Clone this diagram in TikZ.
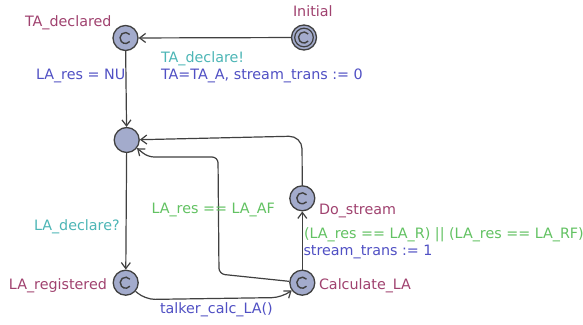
\documentclass[tikz,border=0pt]{standalone}
\usepackage{fontspec}
\setmainfont{DejaVu Sans}
\usetikzlibrary{arrows.meta}
\definecolor{nodefill}{HTML}{A3ABCC}
\definecolor{linegray}{HTML}{404040}
\definecolor{namecol}{HTML}{A0426F}
\definecolor{synccol}{HTML}{4DB6B6}
\definecolor{assigncol}{HTML}{5050C4}
\definecolor{guardcol}{HTML}{62C262}
\begin{document}
\begin{tikzpicture}[x=1pt,y=-1pt,
  font=\fontsize{14.3}{16}\selectfont,
  loc/.style={circle, draw=linegray, fill=nodefill, line width=1.3pt,
    minimum size=25pt, inner sep=0pt},
  committed/.style={loc, path picture={
    \draw[line width=1.4pt, draw=linegray]
      ([shift={(40:5.5pt)}]path picture bounding box.center)
      arc[start angle=40, end angle=320, radius=5.5pt];}},
  initloc/.style={loc, path picture={
    \draw[line width=1.2pt, draw=linegray]
      (path picture bounding box.center) circle[radius=9.3pt];
    \draw[line width=1.4pt, draw=linegray]
      ([shift={(40:5.5pt)}]path picture bounding box.center)
      arc[start angle=40, end angle=320, radius=5.5pt];}},
  lbl/.style={inner sep=0pt, outer sep=0pt, anchor=base west},
  lname/.style={lbl, text=namecol},
  syncl/.style={lbl, text=synccol},
  assignl/.style={lbl, text=assigncol},
  guardl/.style={lbl, text=guardcol},
  edge/.style={draw=linegray, line width=1.2pt,
    -{Straight Barb[length=6pt,width=9pt]}}
]
\useasboundingbox[fill=white] (0,0) rectangle (583,324);

% locations
\node[committed] (tad) at (125.5,38) {};
\node[initloc] (init) at (304,37.5) {};
\node[loc] (mid) at (126.7,140) {};
\node[committed] (lareg) at (125.7,282.7) {};
\node[committed] (calc) at (302.3,282.7) {};
\node[committed] (dos) at (302.3,198.3) {};

% location names
\node[lname] (ntad) at (25,26) {TA\_declared};
\node[lname] (ninit) at (293,16.5) {Initial};
\node[lname] (nlareg) at (9,289) {LA\_registered};
\node[lname] (ncalc) at (319,289) {Calculate\_LA};
\node[lname] (ndos) at (319,214) {Do\_stream};

% edges
\draw[edge] (init) -- (tad);
\draw[edge] (tad) -- (mid);
\draw[edge] (mid) -- (lareg);
\draw[edge, rounded corners=10pt] (lareg) -- (145,299.5) -- (282,297.5) -- (calc);
\draw[edge] (calc) -- (dos);
\draw[edge, rounded corners=13pt] (dos) -- (302,136) -- (mid);
\draw[edge, rounded corners=6pt] (calc) -- (219,274) -- (218,157) -- (148,157) -- (mid);

% edge labels
\node[syncl] (s1) at (161,62) {TA\_declare!};
\node[assignl] (a1) at (161,79) {TA=TA\_A, stream\_trans := 0};
\node[assignl] (a2) at (36,79) {LA\_res = NU};
\node[syncl] (s2) at (34,230.5) {LA\_declare?};
\node[assignl] (a3) at (160,313) {talker\_calc\_LA()};
\node[guardl] (g1) at (151.5,213.5) {LA\_res == LA\_AF};
\node[guardl] (g2) at (304,238.5) {(LA\_res == LA\_R) || (LA\_res == LA\_RF)};
\node[assignl] (a4) at (303.5,255) {stream\_trans := 1};
\end{tikzpicture}
\end{document}
